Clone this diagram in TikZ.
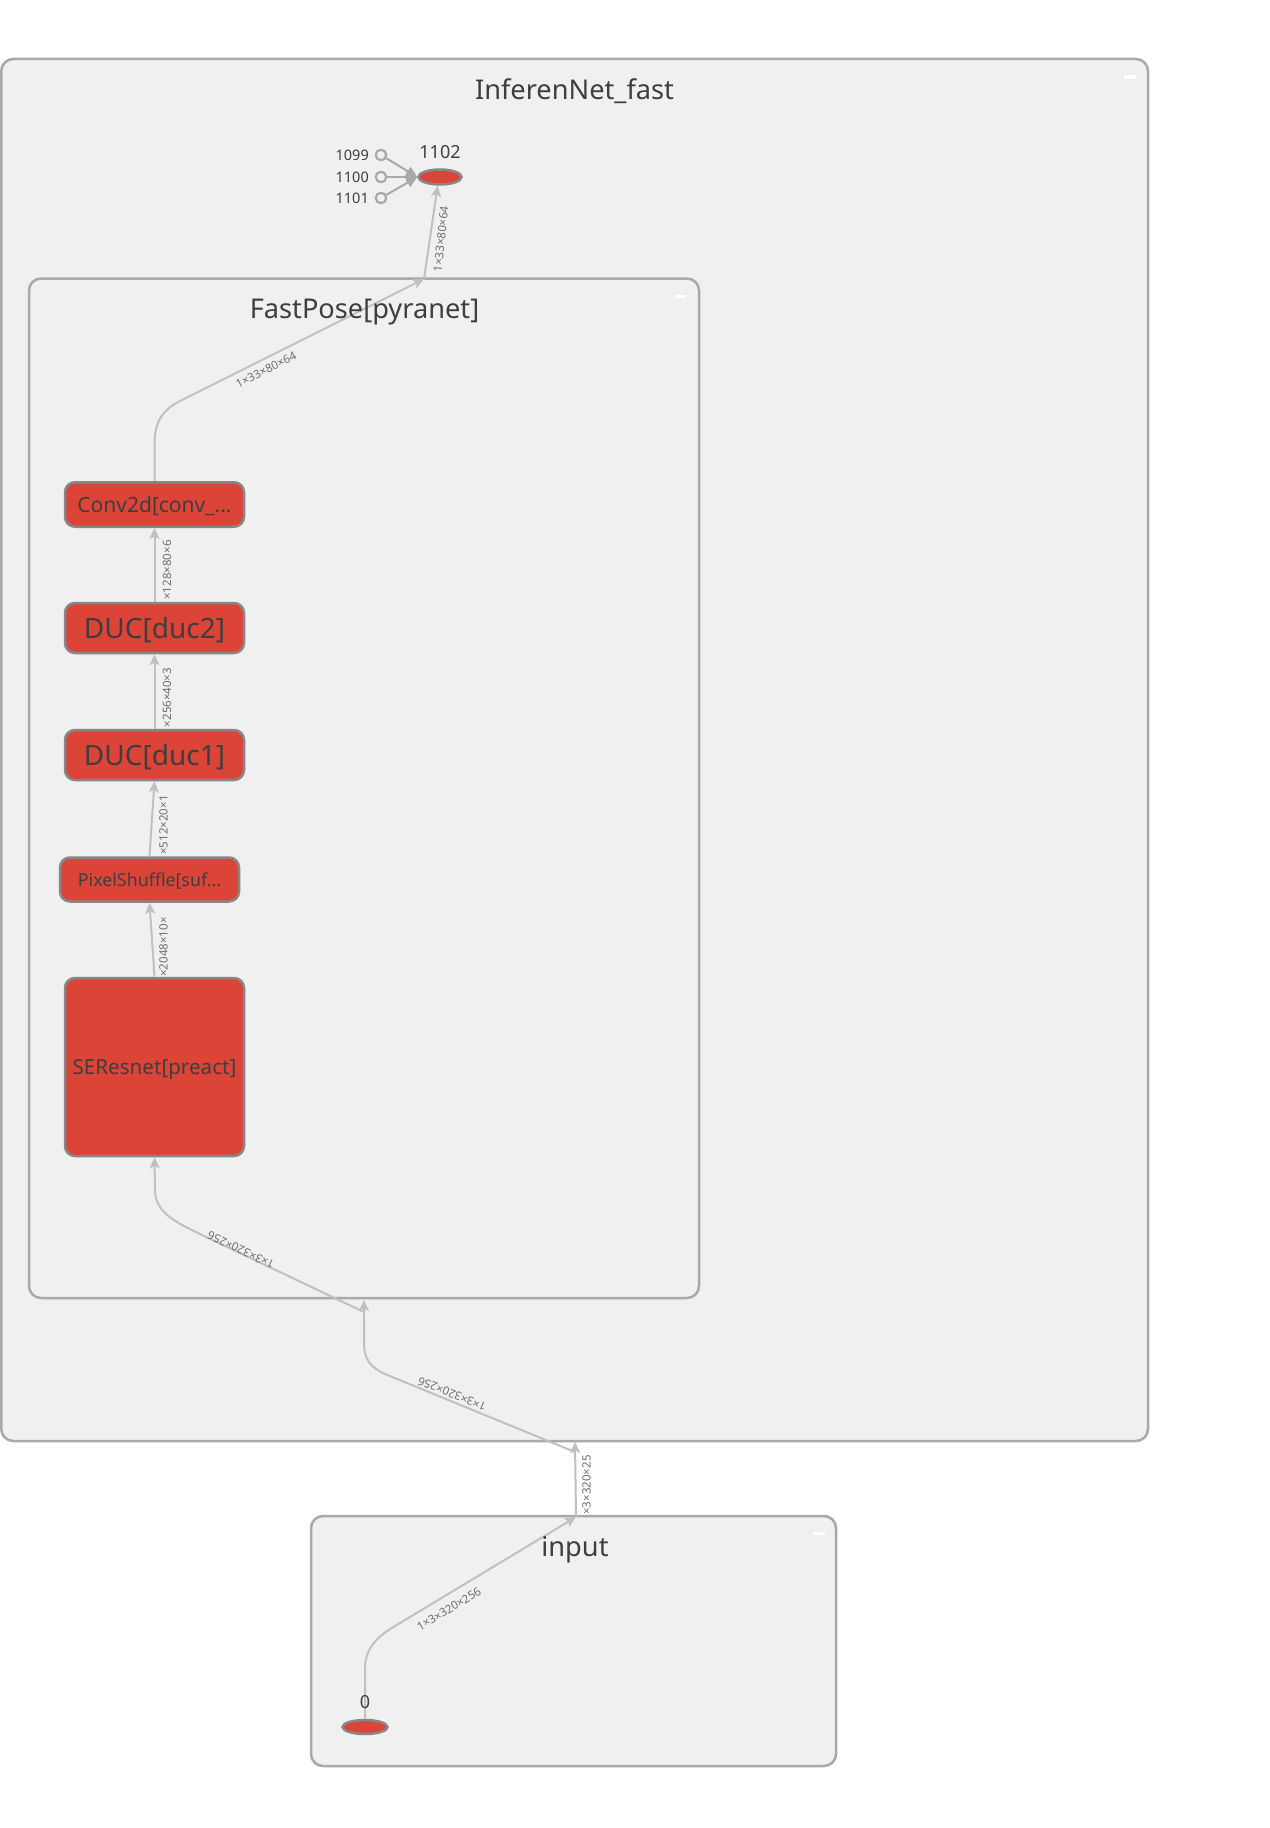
\documentclass[tikz,border=0pt]{standalone}
\usepackage{fontspec}
\setmainfont{Noto Sans}
\usetikzlibrary{arrows.meta,shapes.geometric}

\definecolor{boxfill}{HTML}{F0F0F0}
\definecolor{boxline}{HTML}{A9A9A9}
\definecolor{opred}{HTML}{DB4437}
\definecolor{opline}{HTML}{878787}
\definecolor{txt}{HTML}{3E3E3E}
\definecolor{wire}{HTML}{C0C0C0}
\definecolor{wiretxt}{HTML}{6E6E6E}

\newcommand\fsz[1]{\fontsize{#1pt}{#1pt}\selectfont}

\begin{document}
\begin{tikzpicture}[x=1pt,y=-1pt,
  cluster/.style={draw=boxline,fill=boxfill,line width=2.5pt,rounded corners=12pt},
  ctitle/.style={text=txt,font=\fsz{27.2},anchor=base,inner sep=0pt},
  collapse/.style={draw=white,line width=3pt},
  op/.style={draw=opline,fill=opred,line width=2.5pt,rounded corners=10pt,
    text=txt,inner sep=0pt,minimum width=179pt,text depth=0pt},
  blob/.style={ellipse,draw=opline,fill=opred,line width=2.5pt,inner sep=0pt},
  const/.style={circle,draw=boxline,fill=boxfill,line width=2.2pt,minimum size=10.5pt,inner sep=0pt},
  numtxt/.style={text=txt,inner sep=0pt},
  wired/.style={draw=wire,line width=2pt,-{Stealth[length=11pt,width=10pt,inset=2.5pt]}},
  feed/.style={draw=boxline,line width=2pt,-{Triangle[length=11pt,width=10pt]}},
  elabel/.style={text=wiretxt,font=\fsz{11.5},inner sep=0pt}
]
% canvas
\fill[white] (0,0) rectangle (1269,1828);
\useasboundingbox (0,0) rectangle (1269,1828);

% clusters
\path[cluster] (1.25,59) rectangle (1148,1441);
\path[cluster] (29,278.5) rectangle (699,1298);
\path[cluster] (311,1516) rectangle (836,1766);
\draw[collapse] (1124,77) -- (1136,77);
\draw[collapse] (675,296) -- (686,296);
\draw[collapse] (813,1533) -- (825,1533);

% ports on cluster borders
\coordinate (fpTop) at (424,279);
\coordinate (fpIn) at (364,1300);
\coordinate (fpJoin) at (364,1312);
\coordinate (ifIn) at (575,1442);
\coordinate (ifJoin) at (575,1452);
\coordinate (inOut) at (576,1517);

% operators (text height set so that capitals sit centred)
\node[op,minimum height=44.5pt,font=\fsz{21},text height=15.5pt] (conv) at (154.5,504.5) {Conv2d[conv\_...};
\node[op,minimum height=50pt,font=\fsz{28},text height=20.7pt] (duc2) at (154.5,628) {DUC[duc2]};
\node[op,minimum height=50pt,font=\fsz{28},text height=20.7pt] (duc1) at (154.5,755) {DUC[duc1]};
\node[op,minimum height=44pt,font=\fsz{17.8},text height=13.2pt] (pix) at (149.5,879.5) {PixelShuffle[suf...};
\node[op,minimum height=178pt,font=\fsz{20.6},text height=15.8pt] (se) at (154.5,1067) {SEResnet[preact]};

% output node with its constant inputs
\node[blob,minimum width=43pt,minimum height=15pt] (n1102) at (440,177) {};
\node[numtxt,font=\fsz{18}] (t1102) at (440,152) {1102};
\node[const] (c1099) at (381,155) {};
\node[const] (c1100) at (381,177) {};
\node[const] (c1101) at (381,198) {};
\node[numtxt,font=\fsz{14.5},anchor=east] (t1099) at (369,155) {1099};
\node[numtxt,font=\fsz{14.5},anchor=east] (t1100) at (369,177) {1100};
\node[numtxt,font=\fsz{14.5},anchor=east] (t1101) at (369,198) {1101};
\draw[feed] (c1099) -- (n1102.west);
\draw[feed] (c1100) -- (n1102.west);
\draw[feed] (c1101) -- (n1102.west);

% input node
\node[blob,minimum width=45pt,minimum height=14pt] (n0) at (365,1727) {};

% connectors
\draw[wired] (se.north) -- (pix.south);
\draw[wired] (pix.north) -- (duc1.south);
\draw[wired] (duc1.north) -- (duc2.south);
\draw[wired] (duc2.north) -- (conv.south);
\draw[wired] (conv.north) -- (154.5,445) .. controls (154.5,425) and (160,412) .. (178,402) -- (fpTop);
\draw[wired] (fpTop) -- (n1102.255);
\draw[wired] (fpJoin) -- (200,1234) .. controls (175,1222) and (155,1212) .. (155,1190) -- (se.south);
\draw[wired] (ifJoin) -- (385,1374) .. controls (370,1367) and (364,1359) .. (364,1343) -- (fpIn);
\draw[wired] (inOut) -- (ifIn);
\draw[wired] (n0.north) -- (365,1668) .. controls (365,1648) and (378,1636) .. (395,1626) -- (inOut);

% connector labels
\node[elabel,rotate=90] (l1) at (167,570) {×128×80×6};
\node[elabel,rotate=90] (l2) at (167,697.5) {×256×40×3};
\node[elabel,rotate=90] (l3) at (163.5,825) {×512×20×1};
\node[elabel,rotate=90] (l4) at (163.5,947) {×2048×10×};
\node[elabel,rotate=26.5] (l5) at (266,370) {1×33×80×64};
\node[elabel,rotate=84] (l6) at (441,239) {1×33×80×64};
\node[elabel,rotate=154.8] (l7) at (241,1250) {1×3×320×256};
\node[elabel,rotate=157.8] (l8) at (452,1394) {1×3×320×256};
\node[elabel,rotate=90] (l9) at (586.5,1485) {×3×320×25};
\node[elabel,rotate=31] (l10) at (449,1609) {1×3×320×256};

% label of the input node
\node[numtxt,font=\fsz{18}] (t0) at (365,1702) {0};

% cluster titles
\node[ctitle] (ttlInfer) at (574.5,99.3) {InferenNet\_fast};
\node[ctitle] (ttlFast) at (364.5,318.3) {FastPose[pyranet]};
\node[ctitle] (ttlInput) at (575,1556.7) {input};
\end{tikzpicture}
\end{document}
